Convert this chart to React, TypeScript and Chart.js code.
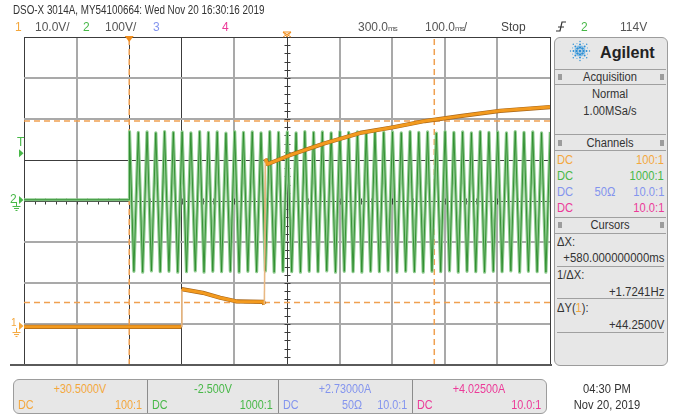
import React, { useEffect, useRef } from "react";
import { Chart, registerables } from "chart.js";
Chart.register(...registerables);

// ---------- data ----------
// horizontal: 100 ms/div, delay 300 ms -> -200 .. 800 ms
const timeMinMs = -200;
const timeMaxMs = 800;
const timeStepMs = 100;
const divMin = -4;
const divMax = 4;

// channel settings
const ch1VoltsPerDiv = 10;
const ch1OffsetV = 30.5;
const ch2VoltsPerDiv = 100;
const ch2OffsetV = -2.5;

// channel 1 (orange) trace
const ch1TimesMs = [-200, 99, 100, 140, 173, 205, 255, 257, 259, 263, 306, 372, 439, 502, 562, 629, 705, 800];
const ch1Volts = [-0.2, -0.2, 9.0, 8.1, 6.9, 6.0, 5.9, 5.3, 40.8, 39.5, 41.7, 44.6, 47.1, 48.5, 50.0, 51.2, 52.5, 53.4];

// channel 2 (green) trace: flat before trigger, then AC mains peaks
const ch2PreTimesMs = [-200, 0];
const ch2PreVolts = [0.5, 0.5];
const ch2StartMs = 0.6;
const ch2HalfPeriodMs = 8.333;
const ch2PeakVolts = [
  167, -174, 165, -176, 166, -173, 164, -175, 167, -174, 165, -176,
  166, -175, 164, -173, 167, -176, 165, -174, 166, -175, 163, -174,
  167, -176, 165, -174, 166, -175, 164, -173, 167, -176, 165, -174,
  166, -175, 164, -176, 167, -174, 165, -175, 166, -173, 164, -176,
  167, -174, 165, -175, 166, -176, 164, -174, 167, -175, 165, -173,
  166, -176, 164, -174, 167, -175, 165, -176, 166, -174, 163, -175,
  167, -173, 165, -176, 166, -174, 164, -175, 167, -176, 165, -174,
  166, -175, 164, -173, 167, -176, 165, -174, 166, -175, 164, -176,
  166,
];

// cursors
const cursorXMs = [0, 580];
const cursorYVolts = [50.0, 5.75];
const triggerLevelV = 114;
const triggerTimeMs = 0;
const delayMs = 300;

// grid styling by value
const darkTimeLines = [-200, 0, 100, 300, 800];
const darkDivLines = [-4, 0, 1, 4];

// ---------- colors ----------
const ORANGE = "#f39a1e";
const ORANGE_DARK = "#a8661a";
const ORANGE_PALE = "#e9b882";
const ORANGE_TXT = "#f4a73c";
const CURSOR = "#f0a050";
const GREEN_LIGHT = "#8fcb8f";
const GREEN_DARK = "#2a8a2a";
const GREEN_TXT = "#48b848";
const BLUE_TXT = "#8394ee";
const PINK_TXT = "#ec3a98";
const FONT = "'Liberation Sans', Arial, Helvetica, sans-serif";

const isSteep = (c: any) => Math.abs(c.p1.y - c.p0.y) > 8 && Math.abs(c.p1.x - c.p0.x) < 4;

const scopePlugin = {
  id: "scopeMarkers",
  beforeDatasetsDraw(chart: any) {
    const { ctx } = chart;
    const xs = chart.scales.x;
    const ys = chart.scales.y;
    const cx = Math.round(xs.getPixelForValue(delayMs)) + 0.5;
    const cy = Math.round(ys.getPixelForValue(0)) + 0.5;
    ctx.save();
    ctx.strokeStyle = "#3a3a3a";
    ctx.lineWidth = 1;
    ctx.beginPath();
    for (let k = divMin * 5; k <= divMax * 5; k++) {
      const y = Math.round(ys.getPixelForValue(k / 5)) + 0.5;
      ctx.moveTo(cx - 3, y);
      ctx.lineTo(cx + 3, y);
    }
    for (let k = -25; k <= 25; k++) {
      const x = Math.round(xs.getPixelForValue(delayMs + k * 20)) + 0.5;
      ctx.moveTo(x, cy - 3);
      ctx.lineTo(x, cy + 3);
    }
    ctx.stroke();
    ctx.restore();
  },
  afterDraw(chart: any) {
    const { ctx, chartArea } = chart;
    const xs = chart.scales.x;
    const y1 = chart.scales.y1;
    const y2 = chart.scales.y2;
    const left = chartArea.left;
    const top = chartArea.top;
    const arrow = (y: number, color: string) => {
      ctx.fillStyle = color;
      ctx.beginPath();
      ctx.moveTo(left - 5, y - 4);
      ctx.lineTo(left - 5, y + 4);
      ctx.lineTo(left - 0.5, y);
      ctx.closePath();
      ctx.fill();
    };
    const ground = (y: number, color: string) => {
      ctx.strokeStyle = color;
      ctx.lineWidth = 1;
      const gx = left - 7.5;
      ctx.beginPath();
      ctx.moveTo(gx, y + 2);
      ctx.lineTo(gx, y + 6);
      ctx.moveTo(gx - 4, y + 6.5);
      ctx.lineTo(gx + 4, y + 6.5);
      ctx.moveTo(gx - 2.5, y + 8.5);
      ctx.lineTo(gx + 2.5, y + 8.5);
      ctx.moveTo(gx - 1, y + 10.5);
      ctx.lineTo(gx + 1, y + 10.5);
      ctx.stroke();
    };
    ctx.save();
    const g2 = y2.getPixelForValue(0);
    const g1 = y1.getPixelForValue(0);
    const tl = y2.getPixelForValue(triggerLevelV);
    arrow(tl, GREEN_TXT);
    arrow(g2, GREEN_TXT);
    ground(g2, GREEN_TXT);
    arrow(g1, ORANGE_TXT);
    ground(g1, ORANGE_TXT);
    // trigger point marker
    const tx = xs.getPixelForValue(triggerTimeMs);
    ctx.fillStyle = "#f08c1a";
    ctx.beginPath();
    ctx.moveTo(tx - 4.5, top - 1);
    ctx.lineTo(tx + 4.5, top - 1);
    ctx.lineTo(tx, top + 5);
    ctx.closePath();
    ctx.fill();
    // delay marker
    const dx = xs.getPixelForValue(delayMs);
    ctx.strokeStyle = "#f08c1a";
    ctx.lineWidth = 1;
    ctx.beginPath();
    ctx.moveTo(dx - 4, top - 5);
    ctx.lineTo(dx + 4, top - 5);
    ctx.lineTo(dx, top);
    ctx.closePath();
    ctx.moveTo(dx - 4, top - 5);
    ctx.lineTo(dx + 4, top);
    ctx.moveTo(dx + 4, top - 5);
    ctx.lineTo(dx - 4, top);
    ctx.stroke();
    ctx.restore();
  },
};

function Txt(props: any) {
  const { x, y, children, color = "#333", size = 12, align = "left", bold = false, sx = 1, family = FONT } = props;
  const style: any = {
    position: "absolute",
    top: y - size / 2,
    lineHeight: size + "px",
    fontSize: size,
    color,
    whiteSpace: "nowrap",
    fontWeight: bold ? 700 : 400,
    fontFamily: family,
  };
  if (align === "left") {
    style.left = x;
    style.transform = `scaleX(${sx})`;
    style.transformOrigin = "left center";
  } else if (align === "right") {
    style.right = 675 - x;
    style.transform = `scaleX(${sx})`;
    style.transformOrigin = "right center";
  } else {
    style.left = x;
    style.transform = `translateX(-50%) scaleX(${sx})`;
    style.transformOrigin = "center center";
  }
  return <div style={style}>{children}</div>;
}

function HLine({ x, y, w, color = "#a0a0a0", h = 1 }: any) {
  return <div style={{ position: "absolute", left: x, top: y, width: w, height: h, background: color }} />;
}
function VLine({ x, y, h, color = "#a0a0a0", w = 1 }: any) {
  return <div style={{ position: "absolute", left: x, top: y, width: w, height: h, background: color }} />;
}
function Grip({ x, y }: any) {
  return (
    <div
      style={{
        position: "absolute",
        left: x,
        top: y - 3,
        width: 4,
        height: 6,
        backgroundImage: "radial-gradient(circle, #9a9a9a 0.7px, transparent 0.9px)",
        backgroundSize: "2px 2px",
      }}
    />
  );
}

function Sparkle() {
  const dots: any[] = [];
  const cx = 12, cy = 12;
  dots.push(<circle key="c" cx={cx} cy={cy} r={1.5} fill="#2b8fd6" />);
  for (let a = 0; a < 8; a++) {
    const ang = (a * Math.PI) / 4;
    [3.5, 6.5, 9.5].forEach((d, i) => {
      dots.push(
        <circle key={`m${a}-${i}`} cx={cx + d * Math.cos(ang)} cy={cy + d * Math.sin(ang)} r={1.3 - i * 0.3} fill="#2b8fd6" />
      );
    });
    const ang2 = ang + Math.PI / 8;
    [5, 8].forEach((d, i) => {
      dots.push(
        <circle key={`s${a}-${i}`} cx={cx + d * Math.cos(ang2)} cy={cy + d * Math.sin(ang2)} r={0.8 - i * 0.2} fill="#5fb0e6" />
      );
    });
  }
  return (
    <svg width={24} height={24} style={{ position: "absolute", left: 568, top: 39 }}>
      {dots}
    </svg>
  );
}

export default function App() {
  const ref = useRef<HTMLCanvasElement>(null);

  useEffect(() => {
    const canvas = ref.current;
    if (!canvas) return;
    const ch1Data = ch1TimesMs.map((t, i) => ({ x: t, y: ch1Volts[i] }));
    const ch2Data = [
      ...ch2PreTimesMs.map((t, i) => ({ x: t, y: ch2PreVolts[i] })),
      ...ch2PeakVolts.map((v, i) => ({ x: ch2StartMs + i * ch2HalfPeriodMs, y: v })),
    ];
    const line = (data: any, color: string, width: number, yAxisID: string, order: number, dash?: number[], segment?: any) => ({
      data,
      borderColor: color,
      borderWidth: width,
      borderDash: dash || [],
      borderJoinStyle: "round",
      pointRadius: 0,
      tension: 0,
      fill: false,
      yAxisID,
      xAxisID: "x",
      order,
      segment,
    });
    const datasets: any[] = [
      line(ch1Data, ORANGE_DARK, 4.2, "y1", 1, undefined, {
        borderWidth: (c: any) => (isSteep(c) ? 1 : 4.2),
        borderColor: (c: any) => (isSteep(c) ? "rgba(150,90,30,0.8)" : ORANGE_DARK),
      }),
      line(ch1Data, ORANGE, 3, "y1", 0, undefined, {
        borderWidth: (c: any) => (isSteep(c) ? 1.5 : 3),
        borderColor: (c: any) => (isSteep(c) ? ORANGE_PALE : ORANGE),
      }),
      line(ch2Data, GREEN_LIGHT, 3.2, "y2", 3),
      line(ch2Data, GREEN_DARK, 0.9, "y2", 2),
      ...cursorXMs.map((t) =>
        line([{ x: t, y: ch1OffsetV - 4 * ch1VoltsPerDiv }, { x: t, y: ch1OffsetV + 4 * ch1VoltsPerDiv }], CURSOR, 1.5, "y1", 5, [6, 4])
      ),
      ...cursorYVolts.map((v) => line([{ x: timeMinMs, y: v }, { x: timeMaxMs, y: v }], CURSOR, 1.5, "y1", 5, [6, 4])),
    ];
    const chart = new Chart(canvas, {
      type: "line",
      data: { datasets },
      plugins: [scopePlugin],
      options: {
        animation: false,
        responsive: false,
        devicePixelRatio: 1,
        events: [],
        layout: { padding: { left: 24, top: 37, right: 125, bottom: 49 } },
        plugins: { legend: { display: false }, tooltip: { enabled: false }, title: { display: false } },
        scales: {
          x: {
            type: "linear",
            min: timeMinMs,
            max: timeMaxMs,
            ticks: { stepSize: timeStepMs, display: false },
            border: { display: false },
            grid: {
              drawTicks: false,
              color: (c: any) => (darkTimeLines.includes(c.tick?.value) ? "#3c3c3c" : "#a9a9a9"),
              lineWidth: (c: any) => (darkTimeLines.includes(c.tick?.value) ? 1 : 2),
            },
          },
          y: {
            type: "linear",
            min: divMin,
            max: divMax,
            ticks: { stepSize: 1, display: false },
            border: { display: false },
            grid: {
              drawTicks: false,
              color: (c: any) => (darkDivLines.includes(c.tick?.value) ? "#3c3c3c" : "#a9a9a9"),
              lineWidth: (c: any) => (darkDivLines.includes(c.tick?.value) ? 1 : 2),
            },
          },
          y1: {
            type: "linear",
            display: false,
            min: ch1OffsetV + divMin * ch1VoltsPerDiv,
            max: ch1OffsetV + divMax * ch1VoltsPerDiv,
          },
          y2: {
            type: "linear",
            display: false,
            min: ch2OffsetV + divMin * ch2VoltsPerDiv,
            max: ch2OffsetV + divMax * ch2VoltsPerDiv,
          },
        },
      } as any,
    });
    return () => chart.destroy();
  }, []);

  const cells = [
    { x0: 13, x1: 147, top: "+30.5000V", color: ORANGE_TXT, mid: "", ratio: "100:1" },
    { x0: 147, x1: 278, top: "-2.500V", color: GREEN_TXT, mid: "", ratio: "1000:1" },
    { x0: 278, x1: 412, top: "+2.73000A", color: BLUE_TXT, mid: "50Ω", ratio: "10.0:1" },
    { x0: 412, x1: 546, top: "+4.02500A", color: PINK_TXT, mid: "", ratio: "10.0:1" },
  ];
  const chanRows = [
    { y: 160, color: ORANGE_TXT, mid: "", ratio: "100:1" },
    { y: 176, color: GREEN_TXT, mid: "", ratio: "1000:1" },
    { y: 192, color: BLUE_TXT, mid: "50Ω", ratio: "10.0:1" },
    { y: 208, color: PINK_TXT, mid: "", ratio: "10.0:1" },
  ];

  return (
    <div
      style={{
        position: "fixed",
        left: 0,
        top: 0,
        width: 675,
        height: 414,
        background: "#ffffff",
        overflow: "hidden",
        fontFamily: FONT,
        color: "#333",
      }}
    >
      <canvas ref={ref} width={675} height={414} style={{ position: "absolute", left: 0, top: 0, width: 675, height: 414 }} />

      {/* header */}
      <Txt x={13} y={10} size={12} sx={0.82} color="#333">DSO-X 3014A, MY54100664: Wed Nov 20 16:30:16 2019</Txt>
      <Txt x={15} y={27} color={ORANGE_TXT}>1</Txt>
      <Txt x={35} y={27} color="#555">10.0V/</Txt>
      <Txt x={83} y={27} color={GREEN_TXT}>2</Txt>
      <Txt x={105} y={27} color="#555">100V/</Txt>
      <Txt x={153} y={27} color={BLUE_TXT}>3</Txt>
      <Txt x={222} y={27} color={PINK_TXT}>4</Txt>
      <Txt x={358} y={27} color="#555">
        300.0<span style={{ fontSize: 8, letterSpacing: -1 }}>ms</span>
      </Txt>
      <Txt x={425} y={27} color="#555">
        100.0<span style={{ fontSize: 8, letterSpacing: -1 }}>ms</span>/
      </Txt>
      <Txt x={501} y={27} color="#444">Stop</Txt>
      <svg width={12} height={14} style={{ position: "absolute", left: 555, top: 20 }}>
        <path d="M1 11 L5 11 L7 2 L11 2" stroke="#333" strokeWidth={1.2} fill="none" />
        <path d="M3 7 L9 7" stroke="#333" strokeWidth={1} />
      </svg>
      <Txt x={581} y={27} color={GREEN_TXT}>2</Txt>
      <Txt x={620} y={27} color="#555">114V</Txt>

      {/* left markers text */}
      <Txt x={17} y={142} color={GREEN_TXT}>T</Txt>
      <Txt x={10} y={199} color={GREEN_TXT}>2</Txt>
      <Txt x={11} y={323} size={10} color={ORANGE_TXT}>1</Txt>

      {/* bottom line of plot */}
      <HLine x={10} y={364} w={542} h={2} color="#5a5a5a" />

      {/* right panel */}
      <div
        style={{
          position: "absolute",
          left: 554,
          top: 37,
          width: 112,
          height: 327,
          border: "1px solid #9c9c9c",
          borderRadius: 6,
          background: "#e7e7e7",
        }}
      />
      <Sparkle />
      <Txt x={600} y={52} size={17} bold sx={0.95} color="#222">Agilent</Txt>
      <HLine x={555} y={69} w={111} />
      <Grip x={558} y={77} />
      <Grip x={660} y={77} />
      <Txt x={610} y={77} align="center" sx={0.93} color="#333">Acquisition</Txt>
      <HLine x={555} y={84} w={111} />
      <Txt x={610} y={94} align="center" sx={0.93} color="#333">Normal</Txt>
      <Txt x={610} y={111} align="center" sx={0.93} color="#333">1.00MSa/s</Txt>
      <HLine x={555} y={134} w={111} />
      <Grip x={558} y={143} />
      <Grip x={660} y={143} />
      <Txt x={610} y={143} align="center" sx={0.93} color="#333">Channels</Txt>
      <HLine x={555} y={150} w={111} />
      {chanRows.map((r, i) => (
        <React.Fragment key={i}>
          <Txt x={557} y={r.y} color={r.color} sx={0.93}>DC</Txt>
          {r.mid ? <Txt x={605} y={r.y} align="center" color={r.color} sx={0.93}>{r.mid}</Txt> : null}
          <Txt x={664} y={r.y} align="right" color={r.color} sx={0.93}>{r.ratio}</Txt>
        </React.Fragment>
      ))}
      <HLine x={555} y={217} w={111} />
      <Grip x={558} y={225} />
      <Grip x={660} y={225} />
      <Txt x={610} y={225} align="center" sx={0.93} color="#333">Cursors</Txt>
      <HLine x={555} y={233} w={111} />
      <Txt x={557} y={242} sx={0.93} color="#333">ΔX:</Txt>
      <Txt x={664} y={258} align="right" sx={0.95} color="#333">+580.000000000ms</Txt>
      <HLine x={557} y={266} w={107} />
      <Txt x={557} y={275} sx={0.93} color="#333">1/ΔX:</Txt>
      <Txt x={664} y={292} align="right" sx={0.95} color="#333">+1.7241Hz</Txt>
      <HLine x={557} y={298} w={107} />
      <Txt x={557} y={308} sx={0.93} color="#333">
        ΔY(<span style={{ color: ORANGE_TXT }}>1</span>):
      </Txt>
      <Txt x={664} y={325} align="right" sx={0.95} color="#333">+44.2500V</Txt>
      <HLine x={557} y={332} w={107} />

      {/* bottom channel panel */}
      <div
        style={{
          position: "absolute",
          left: 13,
          top: 379,
          width: 532,
          height: 33,
          border: "1px solid #9c9c9c",
          borderRadius: 6,
          background: "#e7e7e7",
        }}
      />
      {cells.map((c, i) => (
        <React.Fragment key={i}>
          {i > 0 ? <VLine x={c.x0} y={380} h={33} color="#8c8c8c" /> : null}
          <Txt x={(c.x0 + c.x1) / 2} y={389} align="center" color={c.color} sx={0.9}>{c.top}</Txt>
          <Txt x={c.x0 + 5} y={405} color={c.color} sx={0.9}>DC</Txt>
          {c.mid ? <Txt x={352} y={405} align="center" color={c.color} sx={0.9}>{c.mid}</Txt> : null}
          <Txt x={c.x1 - 5} y={405} align="right" color={c.color} sx={0.9}>{c.ratio}</Txt>
        </React.Fragment>
      ))}

      {/* clock */}
      <Txt x={607} y={389} align="center" sx={0.93} color="#333">04:30 PM</Txt>
      <Txt x={607} y={405} align="center" sx={0.93} color="#333">Nov 20, 2019</Txt>
    </div>
  );
}
